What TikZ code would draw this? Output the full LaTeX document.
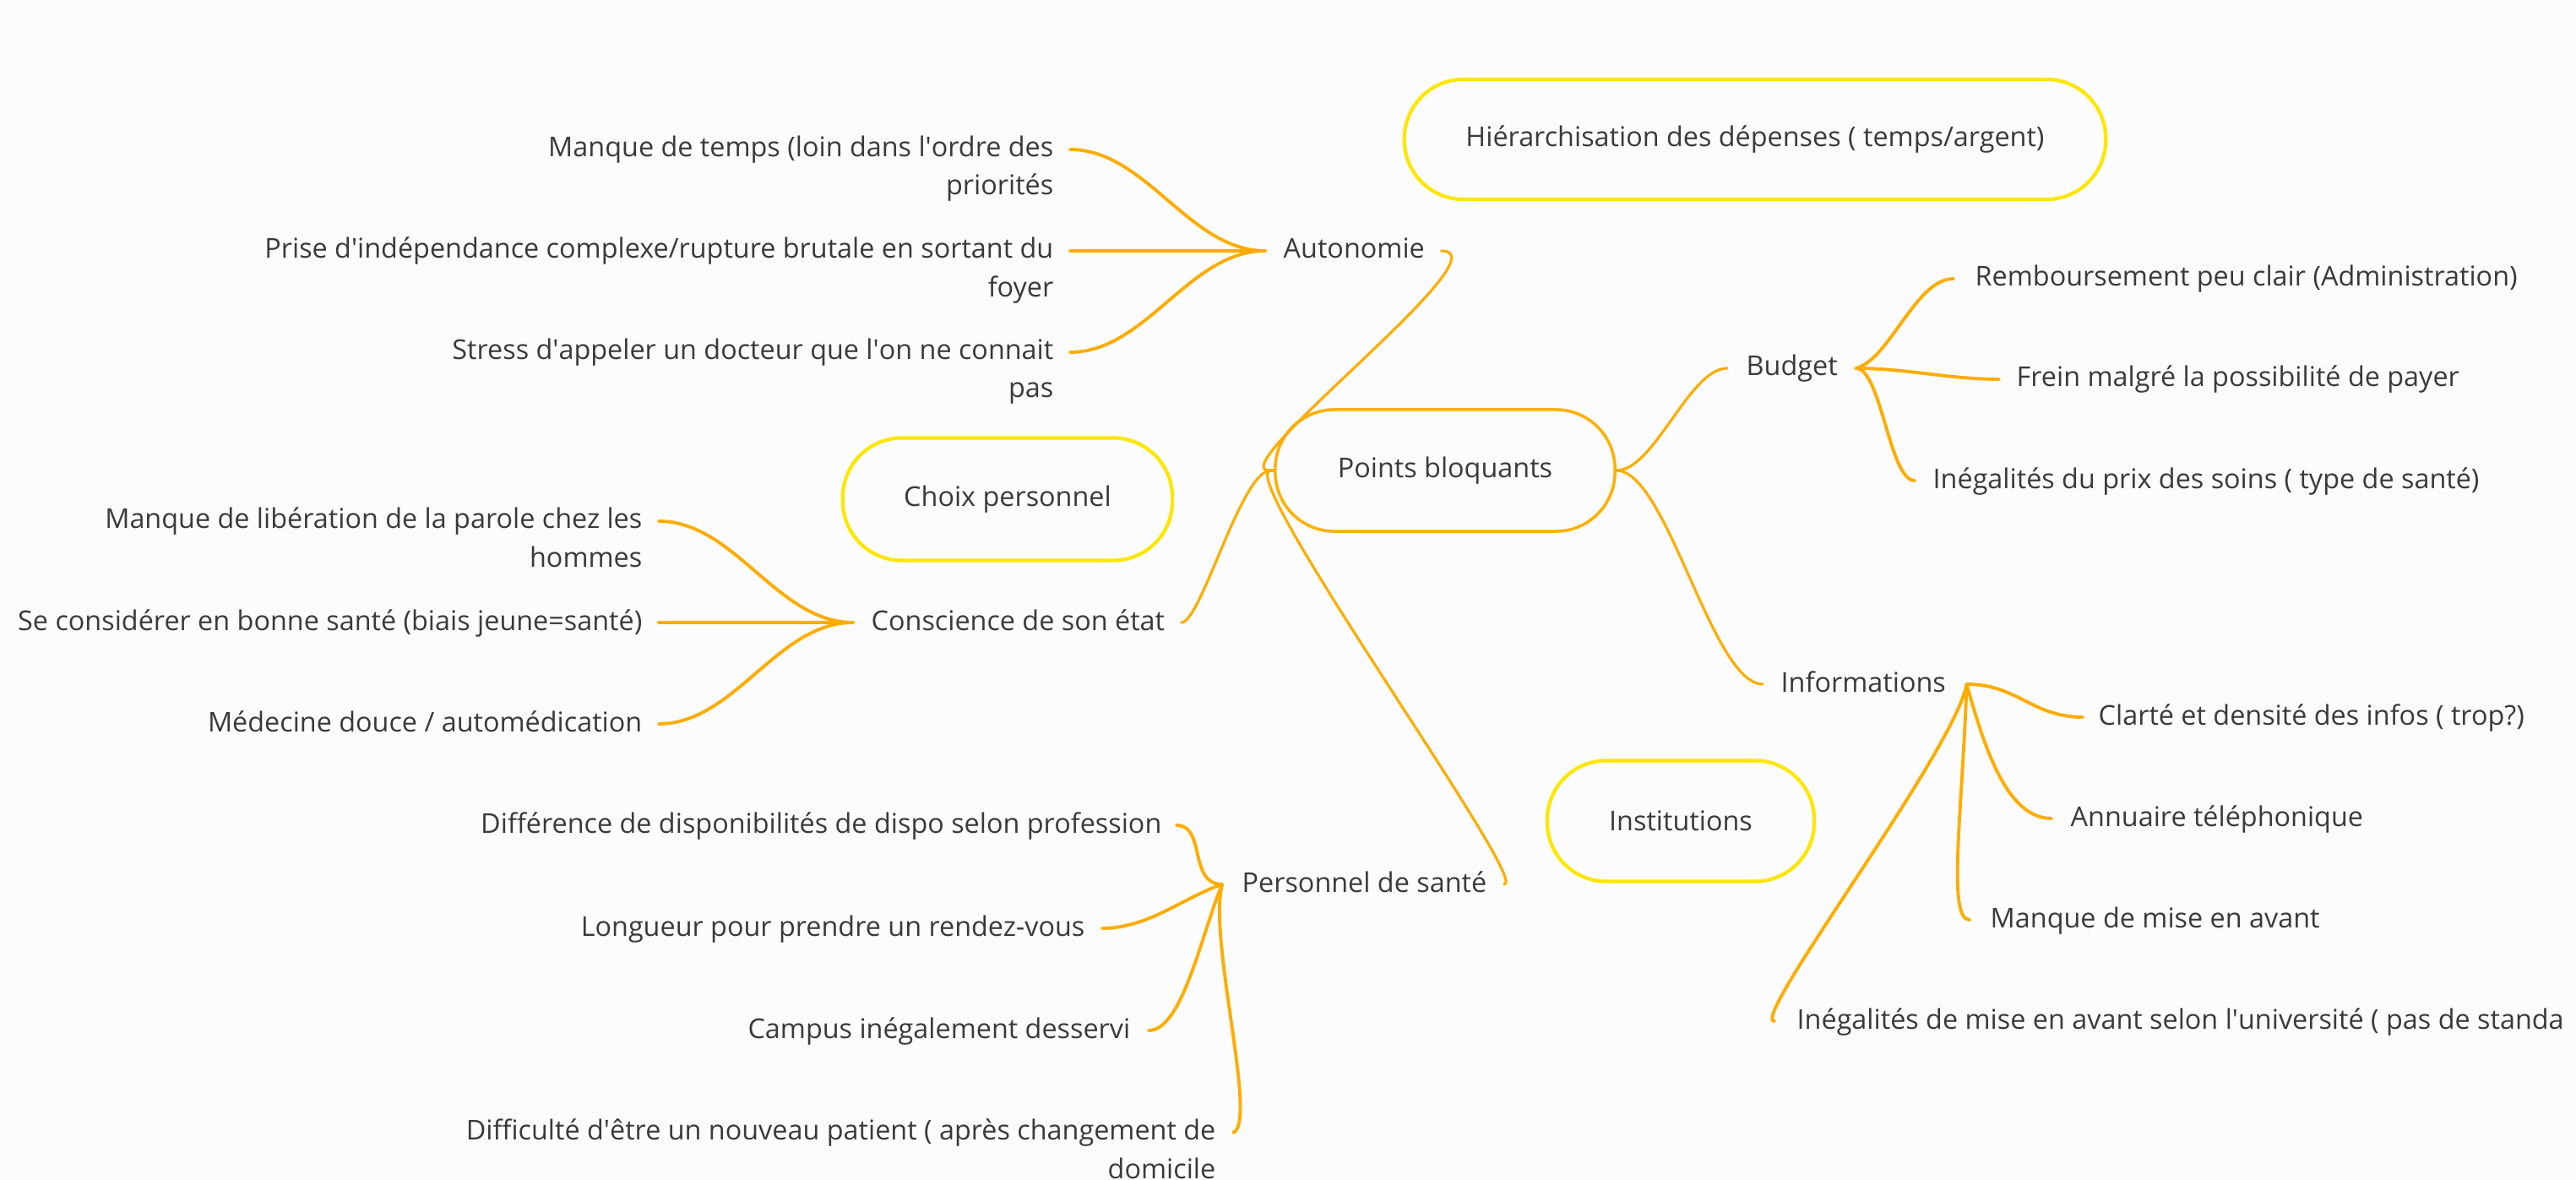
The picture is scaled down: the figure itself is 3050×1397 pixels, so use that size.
\documentclass[tikz,border=0pt]{standalone}
\usepackage{fontspec}
\setmainfont{Open Sans}
\usetikzlibrary{calc}
\definecolor{bg}{RGB}{252,252,252}
\definecolor{txt}{RGB}{58,58,58}
\definecolor{ln}{RGB}{255,172,0}
\definecolor{ylw}{RGB}{255,230,0}
\definecolor{org}{RGB}{255,176,0}
\newcommand{\q}{\textquotesingle}
\begin{document}
\begin{tikzpicture}[x=0.01cm,y=-0.01cm,
  every node/.style={text=txt,font=\fontsize{9.2pt}{12.8pt}\selectfont,inner sep=0pt},
  ybox/.style={draw=ylw,line width=1.2pt,rounded corners=0.7cm,align=center},
  obox/.style={draw=org,line width=1pt,rounded corners=0.7cm,align=center},
  leafl/.style={anchor=base east,align=right},
  leafr/.style={anchor=base west,align=left},
  branch/.style={anchor=base west},
  con/.style={draw=ln,line width=1.1pt,line cap=round},
  mcon/.style={draw=ln,line width=0.9pt,line cap=round}]
\useasboundingbox (0,0) rectangle (3050,1397);
\clip (0,0) rectangle (3050,1397);
\fill[bg] (0,0) rectangle (3050,1397);

% boxes
\node[ybox,minimum width=8.3cm,minimum height=1.42cm] (hier) at (2078,165) {Hiérarchisation des dépenses ( temps/argent)};
\node[ybox,minimum width=3.9cm,minimum height=1.45cm] (choix) at (1193,591) {Choix personnel};
\node[ybox,minimum width=3.16cm,minimum height=1.43cm] (inst) at (1990,972) {Institutions};
\node[obox,minimum width=4.02cm,minimum height=1.44cm] (pb) at (1711,557) {Points bloquants};

% branches
\node[branch] (aut) at (1519,306) {Autonomie};
\node[branch] (cons) at (1031,746) {Conscience de son état};
\node[branch] (pers) at (1470,1056) {Personnel de santé};
\node[branch] (bud) at (2067,445) {Budget};
\node[branch] (info) at (2108,819) {Informations};

\coordinate (autH) at ($(aut.base west)+(-21,-9)$);
\coordinate (autE) at ($(aut.base east)+(19,-9)$);
\coordinate (consH) at ($(cons.base west)+(-21,-9)$);
\coordinate (consE) at ($(cons.base east)+(19,-9)$);
\coordinate (persH) at ($(pers.base west)+(-23,-9)$);
\coordinate (persE) at ($(pers.base east)+(20,-9)$);
\coordinate (budW) at ($(bud.base west)+(-22,-9)$);
\coordinate (budH) at ($(bud.base east)+(21,-9)$);
\coordinate (infoW) at ($(info.base west)+(-21,-9)$);
\coordinate (infoH) at ($(info.base east)+(24,-9)$);
\coordinate (pbW) at ($(pb.west)+(-5,0)$);
\coordinate (pbE) at (pb.east);

% leaves: Autonomie (two-line nodes: base = last line)
\node[leafl] (a1) at (1248,231) {Manque de temps (loin dans l\q ordre des\\priorités};
\node[leafl] (a2) at (1248,351) {Prise d\q indépendance complexe/rupture brutale en sortant du\\foyer};
\node[leafl] (a3) at (1248,471) {Stress d\q appeler un docteur que l\q on ne connait\\pas};
% leaves: Conscience
\node[leafl] (c1) at (761,671) {Manque de libération de la parole chez les\\hommes};
\node[leafl] (c2) at (761,746) {Se considérer en bonne santé (biais jeune=santé)};
\node[leafl] (c3) at (761,866) {Médecine douce / automédication};
% leaves: Personnel
\node[leafl] (p1) at (1376,986) {Différence de disponibilités de dispo selon profession};
\node[leafl] (p2) at (1285,1108) {Longueur pour prendre un rendez-vous};
\node[leafl] (p3) at (1339,1229) {Campus inégalement desservi};
\node[leafl] (p4) at (1440,1395) {Difficulté d\q être un nouveau patient ( après changement de\\domicile};
% leaves: Budget
\node[leafr] (b1) at (2338,339) {Remboursement peu clair (Administration)};
\node[leafr] (b2) at (2387,458) {Frein malgré la possibilité de payer};
\node[leafr] (b3) at (2288,578) {Inégalités du prix des soins ( type de santé)};
% leaves: Informations
\node[leafr] (i1) at (2484,858) {Clarté et densité des infos ( trop?)};
\node[leafr] (i2) at (2451,978) {Annuaire téléphonique};
\node[leafr] (i3) at (2356,1098) {Manque de mise en avant};
\node[leafr] (i4) at (2127,1218) {Inégalités de mise en avant selon l\q université ( pas de standa};

% main connectors
\draw[mcon] (autE) .. controls +(80,0) and +(-60,0) .. (pbW);
\draw[mcon] (consE) .. controls +(23,0) and +(-35,5) .. (pbW);
\draw[mcon] (persE) .. controls +(33,0) and +(-35,15) .. (pbW);
\draw[mcon] (pbW) -- (pb.west);
\draw[mcon] (pbE) .. controls +(45,0) and +(-45,0) .. (budW);
\draw[mcon] (pbE) .. controls +(60,0) and +(-60,0) .. (infoW);

% Autonomie leaves
\draw[con] ([shift={(19,-54)}]a1.base east) .. controls +(90,0) and +(-90,0) .. (autH);
\draw[con] ([shift={(19,-54)}]a2.base east) -- (autH);
\draw[con] ([shift={(19,-54)}]a3.base east) .. controls +(90,0) and +(-90,0) .. (autH);
% Conscience leaves
\draw[con] ([shift={(19,-54)}]c1.base east) .. controls +(90,0) and +(-90,0) .. (consH);
\draw[con] ([shift={(19,-9)}]c2.base east) -- (consH);
\draw[con] ([shift={(19,-9)}]c3.base east) .. controls +(90,0) and +(-90,0) .. (consH);
% Personnel leaves
\draw[con] ([shift={(17,-9)}]p1.base east) .. controls +(35,0) and +(-40,0) .. (persH);
\draw[con] ([shift={(20,-9)}]p2.base east) .. controls +(55,0) and +(-45,15) .. (persH);
\draw[con] ([shift={(21,-9)}]p3.base east) .. controls +(40,0) and +(-25,60) .. (persH);
\draw[con] ([shift={(20,-54)}]p4.base east) .. controls +(30,-11) and +(-17,64) .. (persH);
% Budget leaves
\draw[con] (budH) .. controls +(40,-10) and +(-45,0) .. ([shift={(-25,-9)}]b1.base west);
\draw[con] (budH) .. controls +(60,0) and +(-60,0) .. ([shift={(-20,-9)}]b2.base west);
\draw[con] (budH) .. controls +(30,0) and +(-30,0) .. ([shift={(-21,-9)}]b3.base west);
% Informations leaves
\draw[con] (infoH) .. controls +(60,0) and +(-60,0) .. ([shift={(-18,-9)}]i1.base west);
\draw[con] (infoH) .. controls +(20,71) and +(-54,0) .. ([shift={(-22,-9)}]i2.base west);
\draw[con] (infoH) .. controls +(-5,151) and +(-27,0) .. ([shift={(-24,-9)}]i3.base west);
\draw[con] (infoH) .. controls +(-15,81) and +(-31,0) .. ([shift={(-26,-9)}]i4.base west);
\end{tikzpicture}
\end{document}
